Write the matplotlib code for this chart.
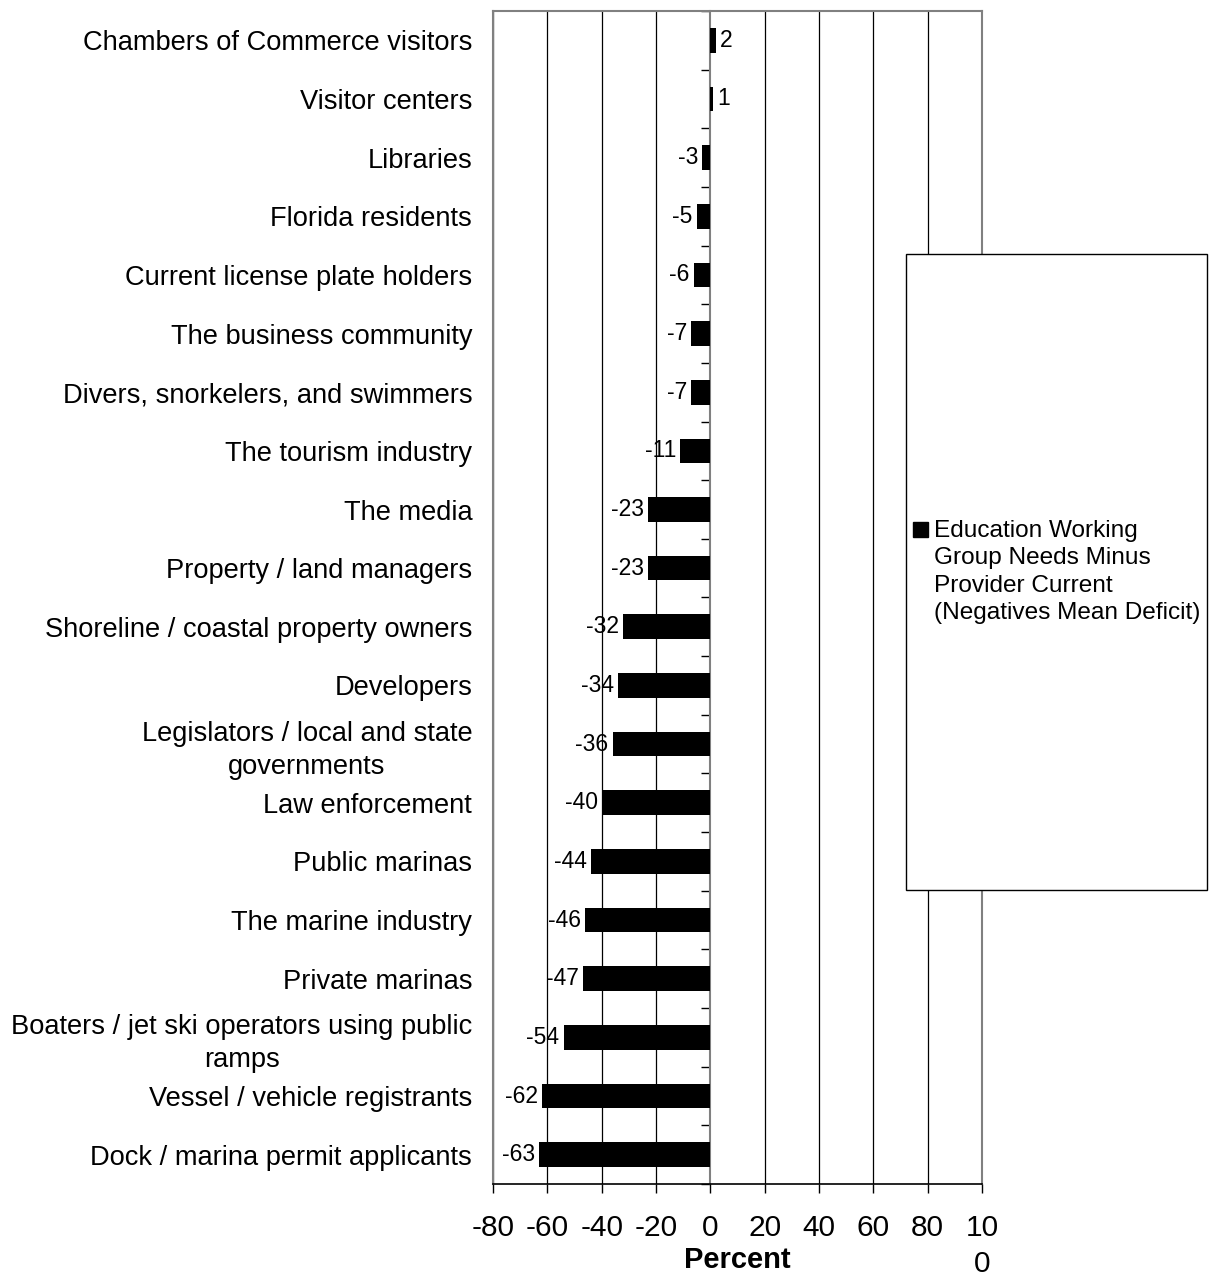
import numpy as np
import matplotlib.pyplot as plt
from matplotlib.patches import Rectangle

plt.rcParams['font.family'] = ['Liberation Sans', 'DejaVu Sans']

groups = [
    'Chambers of Commerce visitors',
    'Visitor centers',
    'Libraries',
    'Florida residents',
    'Current license plate holders',
    'The business community',
    'Divers, snorkelers, and swimmers',
    'The tourism industry',
    'The media',
    'Property / land managers',
    'Shoreline / coastal property owners',
    'Developers',
    'Legislators / local and state\ngovernments',
    'Law enforcement',
    'Public marinas',
    'The marine industry',
    'Private marinas',
    'Boaters / jet ski operators using public\nramps',
    'Vessel / vehicle registrants',
    'Dock / marina permit applicants',
]
diff = [2, 1, -3, -5, -6, -7, -7, -11, -23, -23, -32, -34, -36, -40, -44, -46, -47, -54, -62, -63]
xticks = [-80, -60, -40, -20, 0, 20, 40, 60, 80, 100]
xticklabels = ['-80', '-60', '-40', '-20', '0', '20', '40', '60', '80', '10\n0']
series_name = 'Education Working\nGroup Needs Minus\nProvider Current\n(Negatives Mean Deficit)'

fig = plt.figure(figsize=(12.14, 12.76), dpi=100)
ax = fig.add_axes([0.4061, 0.0721, 0.4028, 0.9193])

y = np.arange(len(groups))
bars = ax.barh(y, diff, height=0.42, color='black', zorder=3)
ax.bar_label(bars, labels=[str(v) for v in diff], padding=3, fontsize=16.5)

ax.set_xlim(-80, 100)
ax.set_ylim(len(groups) - 0.5, -0.5)

ax.set_xticks(xticks)
ax.set_xticklabels(xticklabels, fontsize=21.5, linespacing=1.35)
ax.tick_params(axis='x', direction='out', length=6.5, width=1, pad=15)
ax.set_yticks(y)
ax.set_yticklabels(groups, fontsize=19.6, multialignment='center', linespacing=1.34)
ax.tick_params(axis='y', length=0, pad=15)

ax.xaxis.grid(True, color='black', linewidth=0.9, zorder=1)
ax.xaxis.get_gridlines()[xticks.index(0)].set_visible(False)
ax.set_axisbelow(True)
for s in ['top', 'left', 'right']:
    ax.spines[s].set_color('#808080')
    ax.spines[s].set_linewidth(1.5)
ax.spines['bottom'].set_color('black')
ax.spines['bottom'].set_linewidth(1.2)

ax.set_xlabel('Percent', fontsize=21, fontweight='bold', va='center')
ax.xaxis.set_label_coords(0.5, -0.0648)

# category axis sits on the zero line, with ticks between categories
zero = ax.secondary_yaxis(80 / 180)
zero.set_yticks(np.arange(len(groups) + 1) - 0.5)
zero.set_yticklabels([])
zero.tick_params(axis='y', direction='out', length=6.5, width=1, color='black')
zero.spines['left'].set_color('#808080')
zero.spines['left'].set_linewidth(1.5)

# legend box drawn over the plot area
fig.add_artist(Rectangle((906 / 1214, 1 - 890 / 1276), 301 / 1214, 636 / 1276,
                         transform=fig.transFigure, facecolor='white',
                         edgecolor='black', linewidth=1, zorder=10))
fig.add_artist(Rectangle((913 / 1214, 1 - 537 / 1276), 15 / 1214, 15 / 1276,
                         transform=fig.transFigure, facecolor='black',
                         edgecolor='black', zorder=11))
fig.text(934 / 1214, 1 - 520 / 1276, series_name, fontsize=17.6, va='top', ha='left',
         linespacing=1.32, zorder=11)

fig.savefig('out.png', dpi=100)
